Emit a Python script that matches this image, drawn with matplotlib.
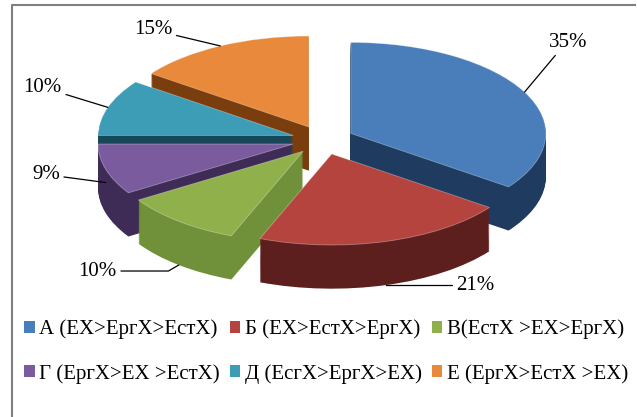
"""
3D-looking exploded pie of the six X-ordering groups, drawn as stacked pie layers.
"""

import matplotlib.pyplot as plt
from matplotlib.patches import Patch
from matplotlib.lines import Line2D
import numpy as np

plt.rcParams['font.family'] = ['Liberation Serif', 'DejaVu Serif']

# ===============================
# DATA
# ===============================

groups = ["А (ЕХ>ЕргХ>ЕстХ)", "Б (ЕХ>ЕстХ>ЕргХ)", "В(ЕстХ >ЕХ>ЕргХ)",
          "Г (ЕргХ>ЕХ >ЕстХ)", "Д (ЕсгХ>ЕргХ>ЕХ)", "Е (ЕргХ>ЕстХ >ЕХ)"]
shares = [35, 21, 10, 9, 10, 15]

top_colors = ['#4A7EBB', '#B5443F', '#8FB04B', '#7A5C9E', '#3E9DB6', '#E8893C']
side_colors = ['#1F3B60', '#5C1F1E', '#71903A', '#3E2C57', '#17485A', '#7A3D0E']

# ===============================
# GEOMETRY / STYLE
# ===============================

EXPLODE = 0.16
DEPTH = 0.48          # extrusion, data units
N_LAYERS = 46
PX_X, PX_Y = 195.0, 91.0   # pixels per data unit (squashed ellipse)
CX_PX, CY_PX = 323.0, 140.0
FS = 15

# label settings: (anchor depth fraction, offset px, ha, angleB or None)
label_style = [
    (0.0, (24, 50), 'left', 50),
    (1.0, (70, 0), 'left', 5),
    (1.0, (-62, -6), 'right', 30),
    (0.3, (-46, 8), 'right', None),
    (0.0, (-46, 20), 'right', None),
    (0.0, (-48, 16), 'right', None),
]

fig = plt.figure(figsize=(6.37, 4.17), dpi=100)
ax = fig.add_axes([0, 0, 1, 1])

explode = [EXPLODE] * len(shares)

# side walls: stack dark layers from bottom to top
for z in np.linspace(-DEPTH, 0, N_LAYERS)[:-1]:
    ax.pie(shares, explode=explode, colors=side_colors, startangle=90,
           counterclock=False, center=(0, z),
           wedgeprops=dict(linewidth=0))

# top face
wedges, _ = ax.pie(shares, explode=explode, colors=top_colors, startangle=90,
                   counterclock=False, center=(0, 0),
                   wedgeprops=dict(linewidth=0.6, edgecolor=(1, 1, 1, 0.35)))

# percentage labels with leader lines
total = float(sum(shares))
for w, val, (frac, off, ha, angB) in zip(wedges, shares, label_style):
    mid = np.deg2rad((w.theta1 + w.theta2) / 2)
    r = 1 + EXPLODE
    x = r * np.cos(mid)
    y = r * np.sin(mid) - DEPTH * frac
    if angB is None:
        conn = "arc3,rad=0"
    else:
        conn = f"angle,angleA=0,angleB={angB},rad=0"
    ax.annotate(f"{val / total * 100:.0f}%", xy=(x, y), xytext=off,
                textcoords='offset pixels', ha=ha, va='center', fontsize=FS,
                arrowprops=dict(arrowstyle='-', color='black', lw=0.9,
                                shrinkA=1, shrinkB=0, connectionstyle=conn))

W, H = 637.0, 417.0
ax.set_xlim(-CX_PX / PX_X, (W - CX_PX) / PX_X)
ax.set_ylim(-(H - CY_PX) / PX_Y, CY_PX / PX_Y)
ax.set_aspect('auto')
ax.axis('off')

# legend, row-major order
order = [0, 3, 1, 4, 2, 5]
handles = [Patch(facecolor=top_colors[i], edgecolor='none') for i in order]
fig.legend(handles, [groups[i] for i in order], ncol=3, loc='center',
           bbox_to_anchor=(0.512, 0.157), frameon=False, fontsize=FS,
           handlelength=0.5, handleheight=0.5, handletextpad=0.2,
           columnspacing=0.5, labelspacing=1.2)

# chart frame: only top and left edges are visible in the crop
fig.lines.append(Line2D([12 / W, 12 / W, 635 / W], [0, 1 - 5 / H, 1 - 5 / H],
                        transform=fig.transFigure, color='#7f7f7f', lw=1.5))

fig.savefig("out.png", dpi=100)
